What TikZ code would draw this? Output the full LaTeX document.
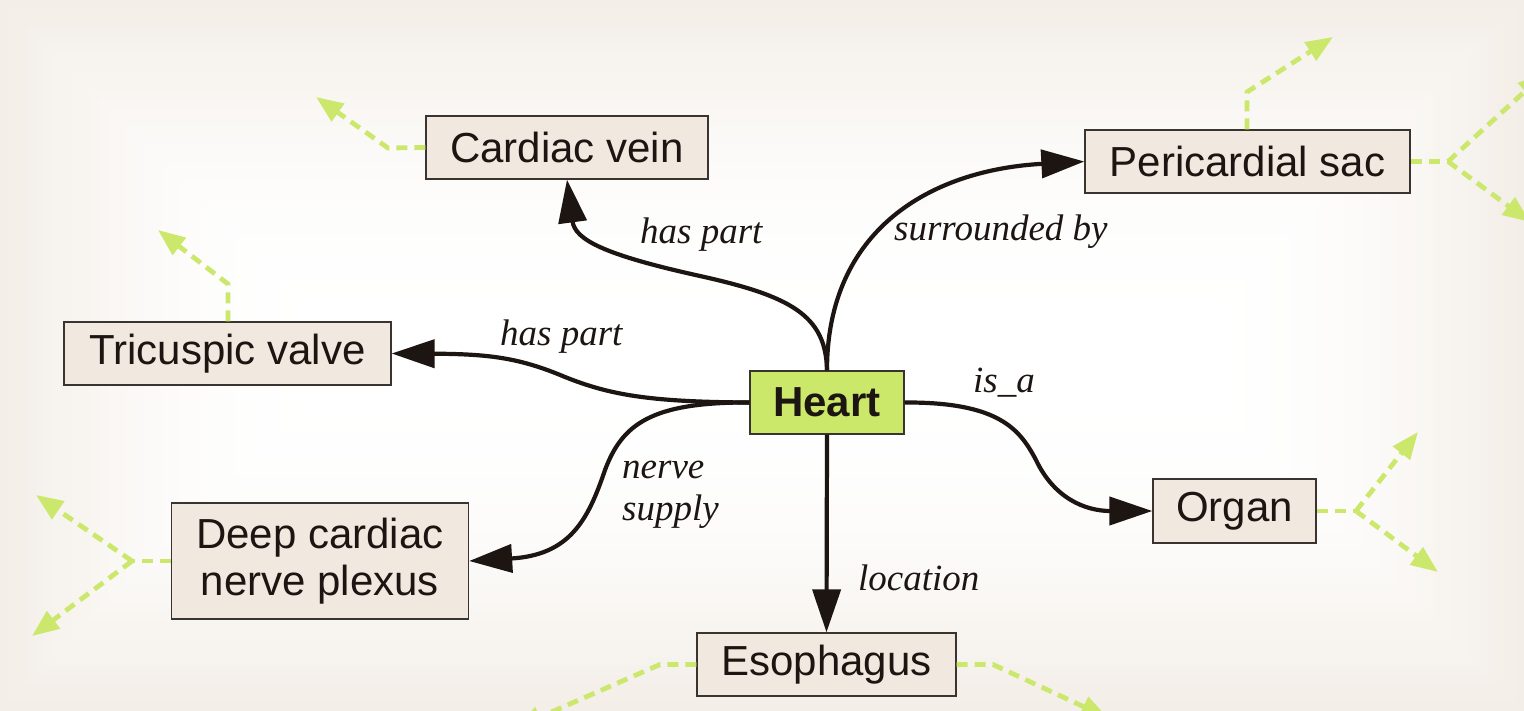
\documentclass[tikz,border=0pt]{standalone}
\usepackage{fontspec}
\setmainfont{Liberation Serif}
\setsansfont{Liberation Sans}
\usetikzlibrary{arrows.meta}
\definecolor{bgbeige}{HTML}{F3EEE7}
\definecolor{boxfill}{HTML}{F1E9E0}
\definecolor{boxline}{HTML}{3A3430}
\definecolor{heartfill}{HTML}{CCE86A}
\definecolor{stubgreen}{HTML}{CBE86C}
\definecolor{edgecol}{HTML}{1C1511}
\tikzset{
  concept/.style={draw=boxline, line width=1.3pt, fill=boxfill, text=edgecol,
    font=\sffamily\fontsize{42}{47}\selectfont, minimum height=63pt, inner sep=0pt, align=center},
  heartbox/.style={concept, fill=heartfill, font=\sffamily\bfseries\fontsize{42}{47}\selectfont},
  rel/.style={draw=edgecol, line width=4.2pt, -{Triangle[length=43pt,width=28pt]}},
  stub/.style={draw=stubgreen, line width=4.8pt, dash pattern=on 11pt off 7pt,
    -{Triangle[length=27pt,width=21pt]}},
  stubline/.style={draw=stubgreen, line width=4.8pt, dash pattern=on 11pt off 7pt},
  lbl/.style={font=\itshape\fontsize{37}{42}\selectfont, text=edgecol, inner sep=0pt, anchor=base west}
}
\begin{document}
\begin{tikzpicture}[x=1pt,y=-1pt]
\useasboundingbox (0,0) rectangle (1524,711);
\clip (0,0) rectangle (1524,711);
% background gradient
\foreach \i in {0,...,36}{
  \pgfmathtruncatemacro\p{100*(1-(1-\i/36)^2)}
  \fill[white!\p!bgbeige] (\i*9,\i*9) rectangle (1524-\i*9,711-\i*9);
}
% nodes
\node[concept, minimum width=282pt] (cv) at (567,147.5) {Cardiac vein};
\node[concept, minimum width=327pt] (tv) at (227.5,353.5) {Tricuspic valve};
\node[concept, minimum width=325pt] (ps) at (1247.5,161.5) {Pericardial sac};
\node[concept, minimum width=297pt, minimum height=116pt] (dc) at (320,561) {Deep cardiac\\nerve plexus};
\node[heartbox, minimum width=154pt] (heart) at (827,402.5) {Heart};
\node[concept, minimum width=163pt, minimum height=64pt] (organ) at (1234.5,511) {Organ};
\node[concept, minimum width=259pt] (eso) at (826.5,664.5) {Esophagus};
% relations
\draw[rel] (heart.north) .. controls (826,315) and (790,296) .. (700,276)
  .. controls (605,255) and (575,240) .. (cv.south);
\draw[rel] (heart.north) .. controls (827,230) and (930,170) .. (ps.west);
\draw[rel] (heart.west) .. controls (650,402) and (610,395) .. (565,377)
  .. controls (520,358) and (490,354) .. (tv.east);
\draw[rel] (heart.west) .. controls (650,402) and (622,425) .. (605,470)
  .. controls (588,520) and (570,555) .. (dc.east);
\draw[rel] (heart.east) .. controls (1000,402) and (1020,430) .. (1036,460)
  .. controls (1054,498) and (1085,511) .. (organ.west);
\draw[rel] (heart.south) -- (eso.north);
% labels
\node[lbl] (hp1) at (640,244) {has part};
\node[lbl] (hp2) at (500,345) {has part};
\node[lbl] (sb) at (894,241) {surrounded by};
\node[lbl] (isa) at (973,392) {is\_a};
\node[lbl] (ns1) at (622,478) {nerve};
\node[lbl] (ns2) at (622,520) {supply};
\node[lbl] (loc) at (858,590) {location};
% green stubs
\coordinate (a1) at (388,148); \coordinate (a2) at (316,97);
\draw[stub] (cv.west) -- (a1) -- (a2);
\coordinate (b1) at (228,284); \coordinate (b2) at (158,230);
\draw[stub] (tv.north -| b1) -- (b1) -- (b2);
\coordinate (c1) at (1247,92); \coordinate (c2) at (1333,37);
\draw[stub] (ps.north -| c1) -- (c1) -- (c2);
\coordinate (d1) at (1448,161.5); \coordinate (d2) at (1545,73); \coordinate (d3) at (1530,222);
\draw[stubline] (ps.east) -- (d1);
\draw[stub] (d1) -- (d2);
\draw[stub] (d1) -- (d3);
\coordinate (e1) at (132,561); \coordinate (e2) at (36,495); \coordinate (e3) at (32,636);
\draw[stubline] (dc.west) -- (e1);
\draw[stub] (e1) -- (e2);
\draw[stub] (e1) -- (e3);
\coordinate (f1) at (1356,511); \coordinate (f2) at (1418,432); \coordinate (f3) at (1438,572);
\draw[stubline] (organ.east) -- (f1);
\draw[stub] (f1) -- (f2);
\draw[stub] (f1) -- (f3);
\coordinate (g1) at (660,664.5); \coordinate (g2) at (515,728);
\draw[stub] (eso.west) -- (g1) -- (g2);
\coordinate (h1) at (993,664.5); \coordinate (h2) at (1108,718);
\draw[stub] (eso.east) -- (h1) -- (h2);
\end{tikzpicture}
\end{document}
